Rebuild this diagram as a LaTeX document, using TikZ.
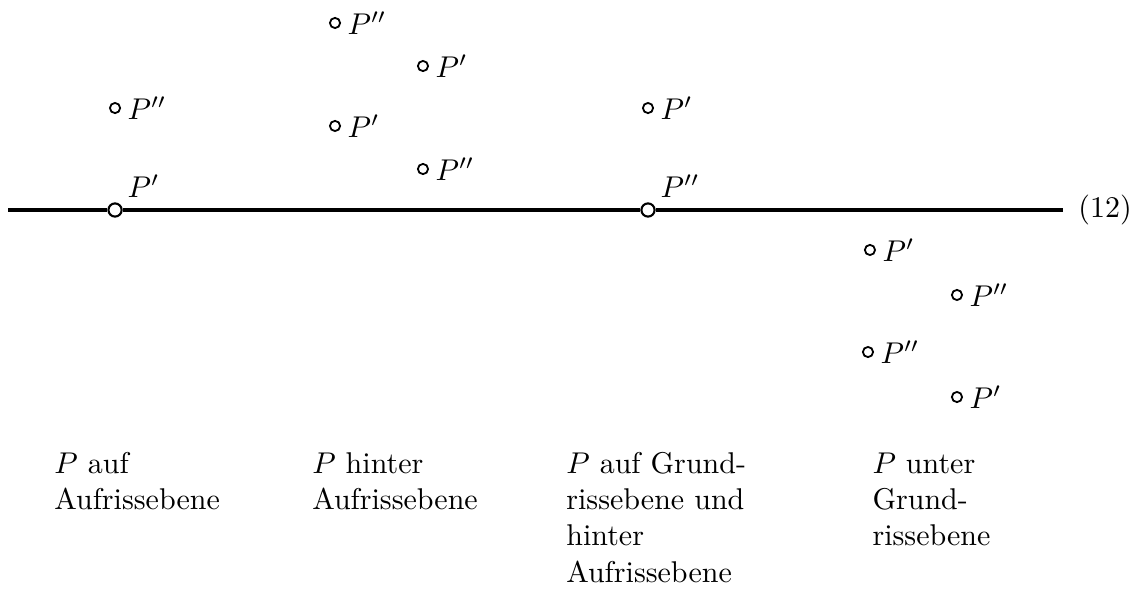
\documentclass[tikz,border=0pt]{standalone}
\usetikzlibrary{positioning}

\begin{document}
\begin{tikzpicture}[
    achse/.style={line width=1.1pt},
    punkt/.style={circle, draw, line width=0.6pt, inner sep=0pt, minimum size=3.4pt},
    spur/.style={circle, draw, fill=white, line width=0.7pt, inner sep=0pt, minimum size=4.4pt},
    lage/.style={anchor=north west, align=left, inner sep=0pt},
    every label/.style={inner sep=2pt}
  ]
  \useasboundingbox (0,-4.497) rectangle (13.326,2.459);
  % Achse mit Spurpunkten
  \coordinate (anfang) at (0.094,0);
  \coordinate (ende) at (12.45,0);
  \node[spur, label={[label distance=0.3pt]45:$P'$}] (a1) at (1.347,0) {};
  \node[spur, label={[label distance=0.3pt]45:$P''$}] (c1) at (7.588,0) {};
  \draw[achse] (anfang) -- (a1) -- (c1) -- (ende);
  \node[right=1.5pt of ende] (nr) {(12)};
  % P auf Aufrissebene
  \node[punkt, label=right:$P''$] (a2) at (1.347,1.194) {};
  % P hinter Aufrissebene
  \node[punkt, label=right:$P''$] (b1) at (3.923,2.190) {};
  \node[punkt, label=right:$P'$] (b2) at (4.953,1.686) {};
  \node[punkt, label=right:$P'$] (b3) at (3.923,0.984) {};
  \node[punkt, label=right:$P''$] (b4) at (4.953,0.480) {};
  % P auf Grundrissebene
  \node[punkt, label=right:$P'$] (c2) at (7.588,1.194) {};
  % P unter Grundrissebene
  \node[punkt, label=right:$P'$] (d1) at (10.187,-0.468) {};
  \node[punkt, label=right:$P''$] (d2) at (11.206,-0.995) {};
  \node[punkt, label=right:$P''$] (d3) at (10.164,-1.663) {};
  \node[punkt, label=right:$P'$] (d4) at (11.206,-2.190) {};
  % Beschriftung
  \node[lage] (ta) at (0.63,-2.836) {$P$ auf\\Aufrissebene};
  \node[lage] (tb) at (3.65,-2.836) {$P$ hinter\\Aufrissebene};
  \node[lage] (tc) at (6.625,-2.836) {$P$ auf Grund-\\rissebene und\\hinter\\Aufrissebene};
  \node[lage] (td) at (10.21,-2.836) {$P$ unter\\Grund-\\rissebene};
\end{tikzpicture}
\end{document}
